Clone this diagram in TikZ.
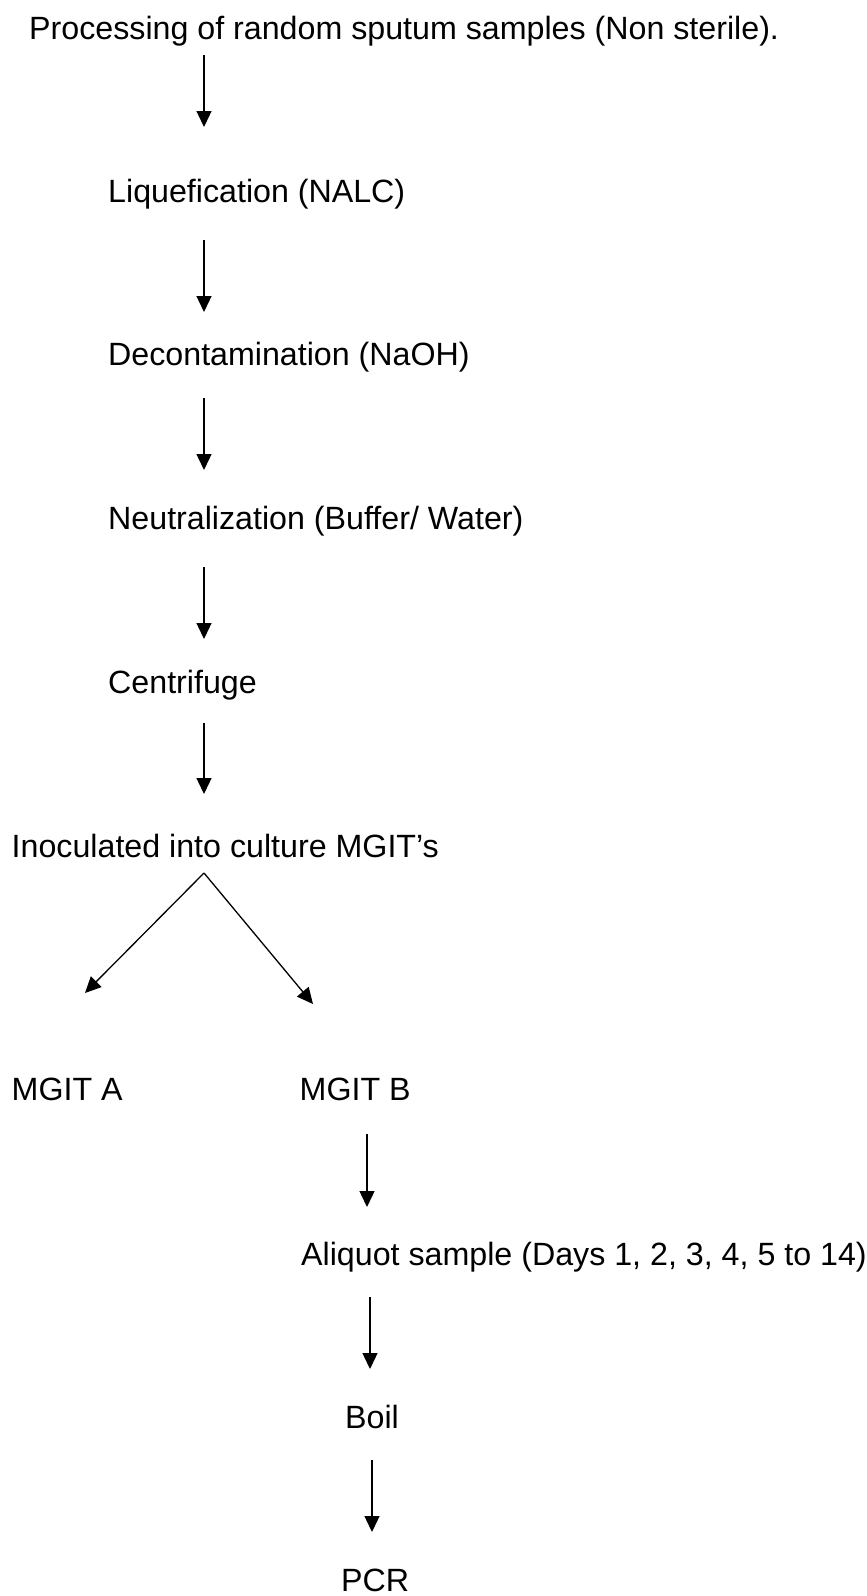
\documentclass[tikz,border=0pt]{standalone}
\usepackage{fontspec}
\setmainfont{Liberation Sans}
\usetikzlibrary{arrows.meta}
\begin{document}
\begin{tikzpicture}[x=1pt,y=-1pt,
  label text/.style={anchor=base west, inner sep=0pt, font=\fontsize{32.2}{38}\selectfont},
  arr/.style={line width=1.3pt, -{Triangle[length=16pt,width=15pt]}}]
\useasboundingbox (0,0) rectangle (867,1596);

% process steps
\node[label text] (title) at (29,39)    {Processing of random sputum samples (Non sterile).};
\node[label text] (liq)   at (108,202)  {Liquefication (NALC)};
\node[label text] (dec)   at (108,365)  {Decontamination (NaOH)};
\node[label text] (neu)   at (108,529)  {Neutralization (Buffer/ Water)};
\node[label text] (cen)   at (108,693)  {Centrifuge};
\node[label text] (ino)   at (11.5,857) {Inoculated into culture MGIT’s};
\node[label text] (mga)   at (11.5,1100){MGIT A};
\node[label text] (mgb)   at (299.5,1100){MGIT B};
\node[label text] (ali)   at (301,1265) {Aliquot sample (Days 1, 2, 3, 4, 5 to 14)};
\node[label text] (boil)  at (345,1428) {Boil};
\node[label text] (pcr)   at (341,1591) {PCR};

% vertical flow arrows
\draw[arr] ([shift={(175,16)}]title.base west) -- ([shift={(96,-75)}]liq.base west);
\draw[arr] ([shift={(96,38)}]liq.base west) -- ([shift={(96,-53)}]dec.base west);
\draw[arr] ([shift={(96,33)}]dec.base west) -- ([shift={(96,-59)}]neu.base west);
\draw[arr] ([shift={(96,38)}]neu.base west) -- ([shift={(96,-54)}]cen.base west);
\draw[arr] ([shift={(96,30)}]cen.base west) -- ([shift={(192.5,-63)}]ino.base west);

% split into the two tubes
\draw[arr] ([shift={(192.5,16)}]ino.base west) -- ([shift={(73.5,-107)}]mga.base west);
\draw[arr] ([shift={(192.5,16)}]ino.base west) -- ([shift={(13.5,-96)}]mgb.base west);

% MGIT B branch
\draw[arr] ([shift={(67.5,34)}]mgb.base west) -- ([shift={(66,-58)}]ali.base west);
\draw[arr] ([shift={(69,32)}]ali.base west) -- ([shift={(25,-59)}]boil.base west);
\draw[arr] ([shift={(27,32)}]boil.base west) -- ([shift={(31,-59)}]pcr.base west);
\end{tikzpicture}
\end{document}
